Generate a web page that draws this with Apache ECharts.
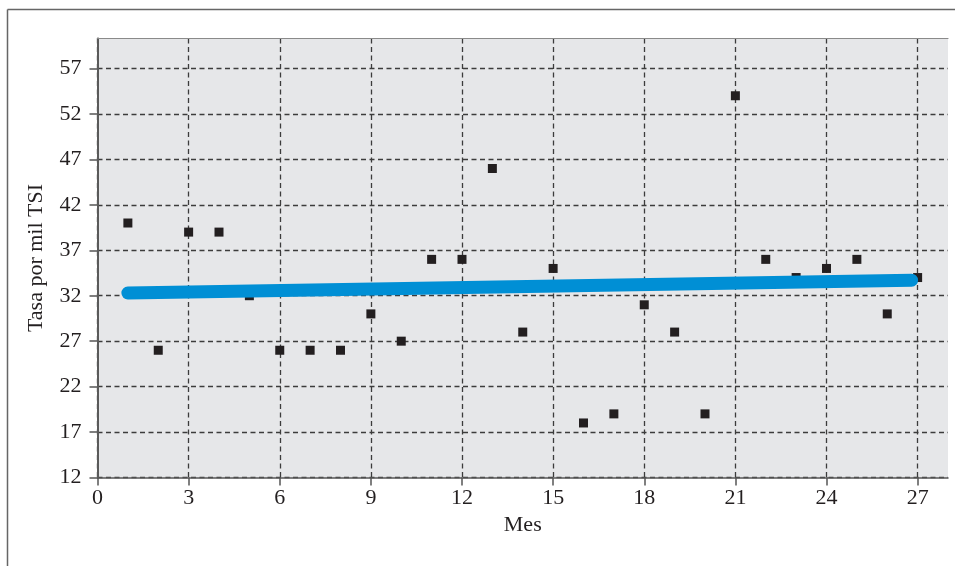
<!DOCTYPE html>
<html>
<head>
<meta charset="utf-8">
<script src="https://cdn.jsdelivr.net/npm/echarts@6/dist/echarts.min.js"></script>
<style>
  html, body { margin: 0; padding: 0; background: #ffffff; }
  #chart { width: 955px; height: 566px; }
</style>
</head>
<body>
<div id="chart"></div>
<script>
// Monthly rate per thousand TSI
const months = [1, 2, 3, 4, 5, 6, 7, 8, 9, 10, 11, 12, 13, 14, 15, 16, 17, 18, 19, 20, 21, 22, 23, 24, 25, 26, 27];
const rates  = [40, 26, 39, 39, 32, 26, 26, 26, 30, 27, 36, 36, 46, 28, 35, 18, 19, 31, 28, 19, 54, 36, 34, 35, 36, 30, 34];

// Trend line end points
const trendMonths = [1, 26.8];
const trendRates  = [32.3, 33.7];

// Axis tick values
const xTicks = [0, 3, 6, 9, 12, 15, 18, 21, 24, 27];
const yTicks = [12, 17, 22, 27, 32, 37, 42, 47, 52, 57];

const xName = 'Mes';
const yName = 'Tasa por mil TSI';

const FONT = "'Liberation Serif', 'DejaVu Serif', serif";
const TEXT = '#231f20';
const AXIS = '#555555';

const chart = echarts.init(document.getElementById('chart'), null, { renderer: 'canvas' });

const option = {
  animation: false,
  backgroundColor: '#ffffff',
  grid: {
    left: 97.5, top: 38.5, right: 7, bottom: 88.5,
    show: true,
    backgroundColor: '#e6e7e9',
    borderWidth: 0
  },
  graphic: [
    { type: 'line', shape: { x1: 7.5, y1: 9.5, x2: 955, y2: 9.5 }, style: { stroke: '#666', lineWidth: 1.5 }, silent: true },
    { type: 'line', shape: { x1: 7.5, y1: 9.5, x2: 7.5, y2: 566 }, style: { stroke: '#666', lineWidth: 1.5 }, silent: true }
  ],
  xAxis: [
    {
      type: 'value', min: 0, max: 28, interval: 3,
      name: xName, nameLocation: 'middle', nameGap: 36,
      nameTextStyle: { fontFamily: FONT, fontSize: 22, color: TEXT },
      axisLine: { show: true, lineStyle: { color: AXIS, width: 1.5 } },
      axisTick: { show: true, length: 8, customValues: xTicks, lineStyle: { color: AXIS, width: 1.5 } },
      axisLabel: { customValues: xTicks, margin: 10, fontFamily: FONT, fontSize: 22, color: TEXT },
      splitLine: { show: true, lineStyle: { color: '#3c3c3c', width: 1.3, type: [5, 3.5] } }
    },
    {
      type: 'value', min: 0, max: 28, position: 'top', z: 5,
      axisLine: { show: true, lineStyle: { color: '#8a8a8a', width: 1.2 } },
      axisTick: { show: false }, axisLabel: { show: false }, splitLine: { show: false }
    }
  ],
  yAxis: [
    {
      type: 'value', min: 12, max: 60.3, interval: 5,
      name: yName, nameLocation: 'middle', nameGap: 50,
      nameTextStyle: { fontFamily: FONT, fontSize: 22, color: TEXT },
      axisLine: { show: true, lineStyle: { color: AXIS, width: 1.5 } },
      axisTick: { show: true, length: 8, customValues: yTicks, lineStyle: { color: AXIS, width: 1.5 } },
      axisLabel: { customValues: yTicks, margin: 16, fontFamily: FONT, fontSize: 22, color: TEXT },
      splitLine: { show: true, lineStyle: { color: '#3c3c3c', width: 1.3, type: [5, 3.5] } }
    },
    {
      type: 'value', min: 12, max: 60.3, position: 'right', z: 5,
      axisLine: { show: true, lineStyle: { color: '#5a5a5a', width: 2 } },
      axisTick: { show: false }, axisLabel: { show: false }, splitLine: { show: false }
    }
  ],
  series: [
    {
      type: 'scatter',
      symbol: 'rect',
      symbolSize: 9,
      itemStyle: { color: '#231f20', opacity: 1 },
      data: months.map((m, i) => [m, rates[i]]),
      z: 2
    },
    {
      type: 'line',
      showSymbol: false,
      symbol: 'none',
      lineStyle: { color: '#008fd5', width: 13, cap: 'round', opacity: 1 },
      data: trendMonths.map((m, i) => [m, trendRates[i]]),
      z: 3
    }
  ]
};

chart.setOption(option);
</script>
</body>
</html>
